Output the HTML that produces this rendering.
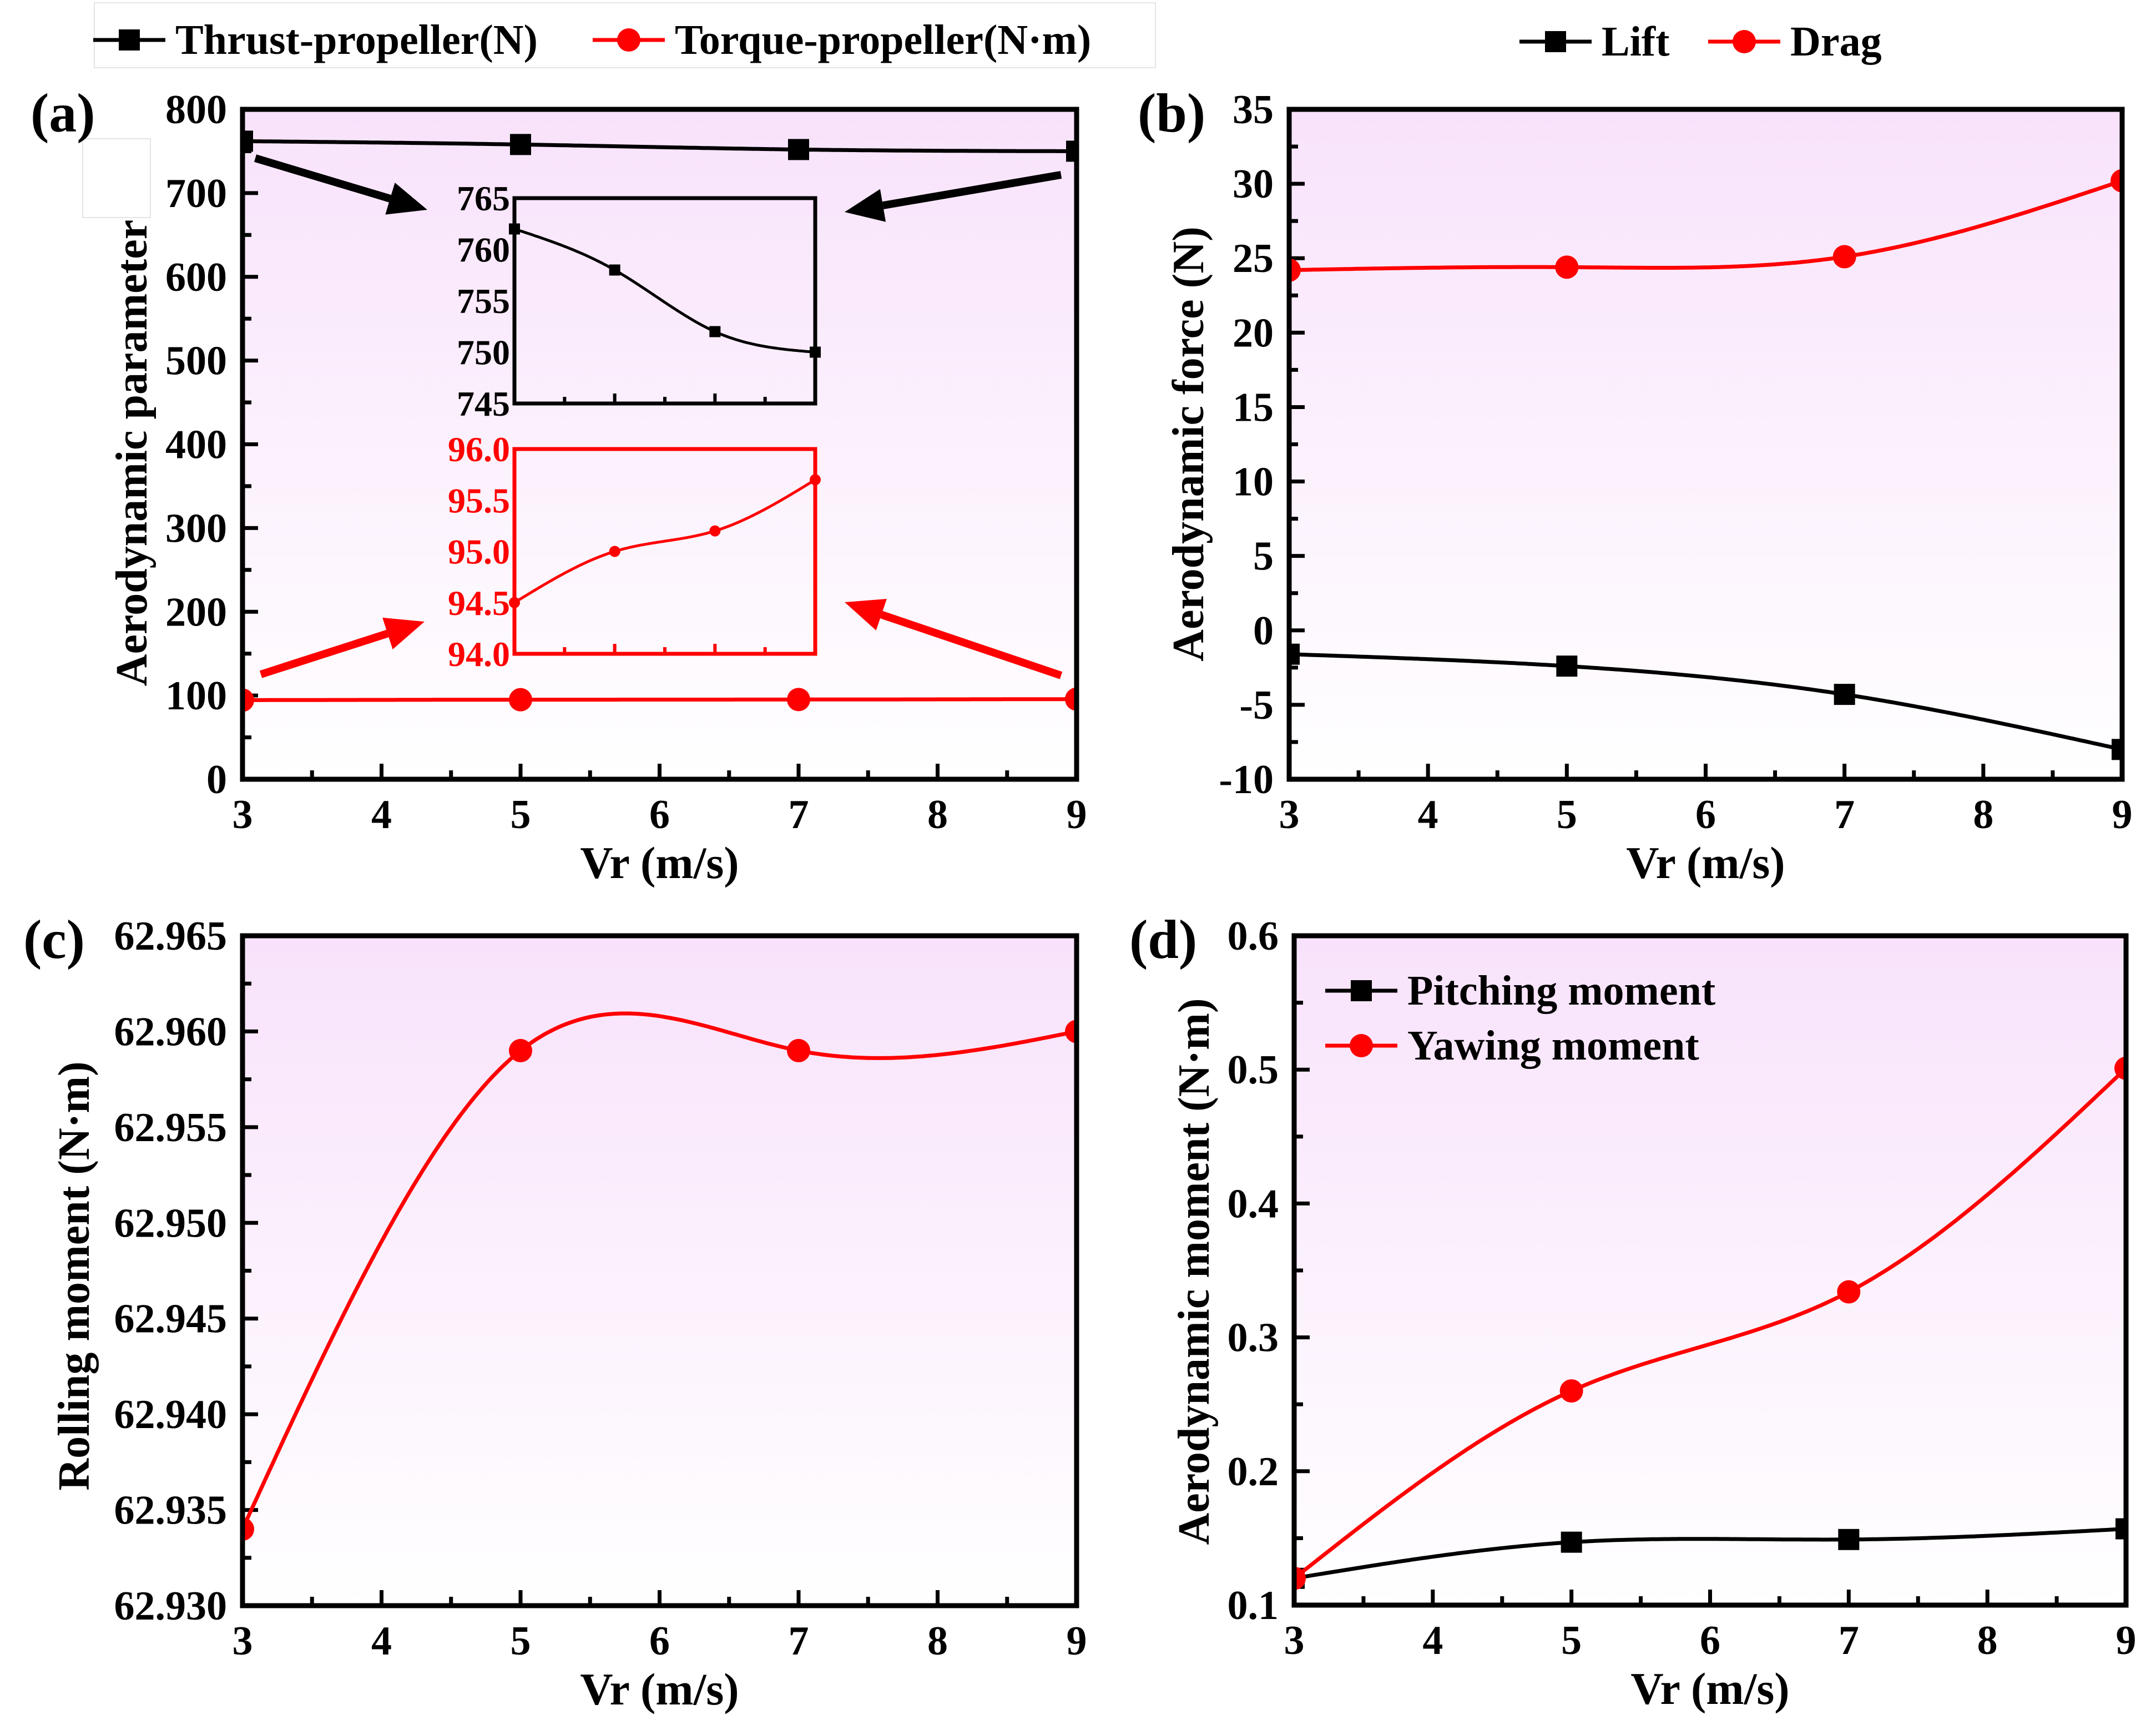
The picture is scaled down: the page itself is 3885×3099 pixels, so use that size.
<!DOCTYPE html>
<html><head><meta charset="utf-8">
<style>
html,body{margin:0;padding:0;background:#fff;}
svg, svg text{font-family:"Liberation Serif","Times New Roman","DejaVu Serif",serif;font-weight:bold;}
</style></head>
<body>
<svg id="fig" width="3885" height="3094" viewBox="0 0 3885 3094" xmlns="http://www.w3.org/2000/svg">
<defs>
<linearGradient id="bg" x1="0" y1="0" x2="0" y2="1">
<stop offset="0" stop-color="#f8e2fb"/><stop offset="1" stop-color="#ffffff"/>
</linearGradient>
</defs>
</svg>
<script>
// ---------- data ----------
const vr = [3, 5, 7, 9];
const thrust = [762, 758, 752, 750];
const torque = [94.5, 95.0, 95.2, 95.7];
const lift = [-1.6, -2.4, -4.3, -8.0];
const drag = [24.2, 24.4, 25.1, 30.2];
const rolling = [62.934, 62.959, 62.959, 62.960];
const pitching = [0.120, 0.147, 0.149, 0.157];
const yawing = [0.120, 0.260, 0.334, 0.501];
const xTicks = [3, 4, 5, 6, 7, 8, 9];
const aTicks = [0, 100, 200, 300, 400, 500, 600, 700, 800];
const bTicks = [-10, -5, 0, 5, 10, 15, 20, 25, 30, 35];
const cTicks = ["62.930", "62.935", "62.940", "62.945", "62.950", "62.955", "62.960", "62.965"];
const dTicks = ["0.1", "0.2", "0.3", "0.4", "0.5", "0.6"];
const insetBTicks = [745, 750, 755, 760, 765];
const insetRTicks = ["94.0", "94.5", "95.0", "95.5", "96.0"];

const svg = document.getElementById('fig');
const NS = 'http://www.w3.org/2000/svg';
const FONT = '"Liberation Serif", "Times New Roman", "DejaVu Serif", serif';
function mk(tag, attrs, parent) {
  const e = document.createElementNS(NS, tag);
  for (const k in attrs) e.setAttribute(k, attrs[k]);
  (parent || svg).appendChild(e);
  return e;
}
function txt(s, attrs, parent) {
  attrs['font-family'] = FONT; attrs['font-weight'] = 'bold';
  const t = mk('text', attrs, parent); t.textContent = s; return t;
}

function spline(xs, ys) {
  const n = xs.length, h = [], a = [], l = [1], mu = [0], z = [0], c = new Array(n).fill(0), b = [], d = [];
  for (let i = 0; i < n - 1; i++) h.push(xs[i + 1] - xs[i]);
  for (let i = 1; i < n - 1; i++) a[i] = 3 / h[i] * (ys[i + 1] - ys[i]) - 3 / h[i - 1] * (ys[i] - ys[i - 1]);
  for (let i = 1; i < n - 1; i++) {
    l[i] = 2 * (xs[i + 1] - xs[i - 1]) - h[i - 1] * mu[i - 1];
    mu[i] = h[i] / l[i]; z[i] = (a[i] - h[i - 1] * z[i - 1]) / l[i];
  }
  c[n - 1] = 0;
  for (let j = n - 2; j >= 0; j--) {
    c[j] = (j === 0 ? 0 : z[j] - mu[j] * c[j + 1]);
    b[j] = (ys[j + 1] - ys[j]) / h[j] - h[j] * (c[j + 1] + 2 * c[j]) / 3;
    d[j] = (c[j + 1] - c[j]) / (3 * h[j]);
  }
  return x => {
    let i = 0; while (i < n - 2 && x > xs[i + 1]) i++;
    const dx = x - xs[i];
    return ys[i] + b[i] * dx + c[i] * dx * dx + d[i] * dx * dx * dx;
  };
}

// odd white box artifact (behind everything)
const wb = mk('rect', { x: 149, y: 250, width: 122, height: 142, fill: '#fff', stroke: '#e4e4e4', 'stroke-width': 2 });



let clipId = 0;
function panel(o) {
  const g = mk('g', {});
  
  
  const X = v => o.L + (v - o.xmin) / (o.xmax - o.xmin) * (o.R - o.L);
  const Y = v => o.B - (v - o.ymin) / (o.ymax - o.ymin) * (o.B - o.T);
  const bg = mk('rect', { x: o.L, y: o.T, width: o.R - o.L, height: o.B - o.T, fill: 'url(#bg)' }, g);
  
  
  const cid = 'clip' + (clipId++);
  const cp = mk('clipPath', { id: cid }, g);
  mk('rect', { x: o.L, y: o.T, width: o.R - o.L, height: o.B - o.T }, cp);
  const ag = mk('g', { stroke: '#000', 'stroke-width': 7 }, g);
  
  
  for (let v = o.xmin; v <= o.xmax + 1e-9; v += 0.5) {
    const major = Math.abs(v - Math.round(v)) < 1e-9;
    const len = major ? 28 : 16;
    mk('line', { x1: X(v), y1: o.B, x2: X(v), y2: o.B - len }, ag);
  }
  const ys = o.yt.map(Number);
  const step = ys[1] - ys[0];
  for (let i = 0; i < ys.length; i++) {
    mk('line', { x1: o.L, y1: Y(ys[i]), x2: o.L + 28, y2: Y(ys[i]) }, ag);
    if (i < ys.length - 1) mk('line', { x1: o.L, y1: Y(ys[i] + step / 2), x2: o.L + 16, y2: Y(ys[i] + step / 2) }, ag);
  }
  xTicks.forEach(v => {
    const t = txt(String(v), { x: X(v), y: o.B + 88, 'font-size': 74, 'text-anchor': 'middle' }, g);
    
    
  });
  o.yt.forEach(s => {
    const t = txt(String(s), { x: o.L - 28, y: Y(Number(s)) + 25, 'font-size': 74, 'text-anchor': 'end' }, g);
    
    
  });
  const dg = mk('g', { 'clip-path': 'url(#' + cid + ')' }, g);
  o.series.forEach(s => {
    const f = spline(vr, s.v);
    let d = '';
    for (let k = 0; k <= 240; k++) {
      const xv = vr[0] + (vr[vr.length - 1] - vr[0]) * k / 240;
      d += (k ? 'L' : 'M') + X(xv).toFixed(1) + ' ' + Y(f(xv)).toFixed(1);
    }
    const p = mk('path', { d: d, fill: 'none', stroke: s.c, 'stroke-width': 7 }, dg);
    
    
    s.v.forEach((v, i) => {
      let m;
      if (s.m === 'sq') m = mk('rect', { x: X(vr[i]) - 19, y: Y(v) - 19, width: 38, height: 38, fill: s.c }, dg);
      else m = mk('circle', { cx: X(vr[i]), cy: Y(v), r: 21, fill: s.c }, dg);
      
      
    });
  });
  const fr = mk('rect', { x: o.L, y: o.T, width: o.R - o.L, height: o.B - o.T, fill: 'none', stroke: '#000', 'stroke-width': 9 }, g);
  
  
  const xt = txt('Vr (m/s)', { x: (o.L + o.R) / 2, y: o.B + 178, 'font-size': 82, 'text-anchor': 'middle' }, g);
  
  
  const yt = txt(o.ytitle, { x: 0, y: 0, 'font-size': 80, 'text-anchor': 'middle', transform: 'translate(' + o.ytx + ',' + o.ytc + ') rotate(-90)' }, g);
  
  
  const pl = txt(o.label, { x: o.lx, y: o.T + 40, 'font-size': 100 }, g);
  
  
  return { X, Y, g };
}

panel({ name: 'panel-a', L: 437, R: 1940, T: 197, B: 1404, xmin: 3, xmax: 9, ymin: 0, ymax: 800, yt: aTicks,
  series: [{ name: 'thrust', v: thrust, c: '#000', m: 'sq' }, { name: 'torque', v: torque, c: '#ff0000', m: 'ci' }],
  ytitle: 'Aerodynamic parameter', ytx: 264, ytc: 816, label: '(a)', lx: 55 });
panel({ name: 'panel-b', L: 2323, R: 3824, T: 197, B: 1404, xmin: 3, xmax: 9, ymin: -10, ymax: 35, yt: bTicks,
  series: [{ name: 'lift', v: lift, c: '#000', m: 'sq' }, { name: 'drag', v: drag, c: '#ff0000', m: 'ci' }],
  ytitle: 'Aerodynamic force (N)', ytx: 2168, ytc: 800, label: '(b)', lx: 2050 });
panel({ name: 'panel-c', L: 437, R: 1940, T: 1686, B: 2893, xmin: 3, xmax: 9, ymin: 62.930, ymax: 62.965, yt: cTicks,
  series: [{ name: 'rolling', v: rolling, c: '#ff0000', m: 'ci' }],
  ytitle: 'Rolling moment (N·m)', ytx: 160, ytc: 2299, label: '(c)', lx: 42 });
panel({ name: 'panel-d', L: 2332, R: 3831, T: 1686, B: 2892, xmin: 3, xmax: 9, ymin: 0.1, ymax: 0.6, yt: dTicks,
  series: [{ name: 'pitching', v: pitching, c: '#000', m: 'sq' }, { name: 'yawing', v: yawing, c: '#ff0000', m: 'ci' }],
  ytitle: 'Aerodynamic moment (N·m)', ytx: 2178, ytc: 2291, label: '(d)', lx: 2035 });

function inset(o) {
  const g = mk('g', {});
  
  
  const X = v => o.L + (v - 3) / 6 * (o.R - o.L);
  const Y = v => o.B - (v - o.ymin) / (o.ymax - o.ymin) * (o.B - o.T);
  const tg = mk('g', { stroke: o.c, 'stroke-width': 6 }, g);
  [4, 5, 6, 7, 8].forEach(v => mk('line', { x1: X(v), y1: o.B, x2: X(v), y2: o.B - (v % 2 ? 18 : 12) }, tg));
  o.yt.forEach(s => {
    const t = txt(String(s), { x: o.L - 8, y: Y(Number(s)) + 22, 'font-size': 64, 'text-anchor': 'end', fill: o.c }, g);
    
    
  });
  const f = spline(vr, o.v);
  let d = '';
  for (let k = 0; k <= 200; k++) {
    const xv = 3 + 6 * k / 200;
    d += (k ? 'L' : 'M') + X(xv).toFixed(1) + ' ' + Y(f(xv)).toFixed(1);
  }
  const p = mk('path', { d: d, fill: 'none', stroke: o.c, 'stroke-width': 5 }, g);
  
  
  o.v.forEach((v, i) => {
    let m;
    if (o.m === 'sq') m = mk('rect', { x: X(vr[i]) - 10, y: Y(v) - 10, width: 20, height: 20, fill: o.c }, g);
    else m = mk('circle', { cx: X(vr[i]), cy: Y(v), r: 10, fill: o.c }, g);
    
    
  });
  const fr = mk('rect', { x: o.L, y: o.T, width: o.R - o.L, height: o.B - o.T, fill: 'none', stroke: o.c, 'stroke-width': 7 }, g);
  
  
}
inset({ name: 'thrust-inset', L: 927, R: 1469, T: 357, B: 727, ymin: 745, ymax: 765, yt: insetBTicks, v: thrust, c: '#000', m: 'sq' });
inset({ name: 'torque-inset', L: 927, R: 1469, T: 809, B: 1178, ymin: 94, ymax: 96, yt: insetRTicks, v: torque, c: '#ff0000', m: 'ci' });

function arrow(x1, y1, x2, y2, c, name) {
  const ang = Math.atan2(y2 - y1, x2 - x1), hl = 70, hw = 30;
  const bx = x2 - hl * Math.cos(ang), by = y2 - hl * Math.sin(ang);
  const g = mk('g', {});
  
  
  mk('line', { x1: x1, y1: y1, x2: bx, y2: by, stroke: c, 'stroke-width': 14 }, g);
  const px = -Math.sin(ang) * hw, py = Math.cos(ang) * hw;
  mk('polygon', { points: x2 + ',' + y2 + ' ' + (bx + px) + ',' + (by + py) + ' ' + (bx - px) + ',' + (by - py), fill: c }, g);
}
arrow(460, 285, 770, 378, '#000', 'arrow-thrust-left');
arrow(1912, 315, 1522, 382, '#000', 'arrow-thrust-right');
arrow(470, 1215, 765, 1120, '#ff0000', 'arrow-torque-left');
arrow(1912, 1217, 1522, 1085, '#ff0000', 'arrow-torque-right');

function legendItem(x, y, c, m, label, name, fs) {
  const g = mk('g', {});
  
  
  mk('line', { x1: x, y1: y, x2: x + 130, y2: y, stroke: c, 'stroke-width': 7 }, g);
  if (m === 'sq') mk('rect', { x: x + 46, y: y - 19, width: 38, height: 38, fill: c }, g);
  else mk('circle', { cx: x + 65, cy: y, r: 21, fill: c }, g);
  txt(label, { x: x + 148, y: y + 25, 'font-size': fs }, g);
}
const lbox = mk('rect', { x: 170, y: 5, width: 1912, height: 117, fill: 'none', stroke: '#e4e4e4', 'stroke-width': 2 });


legendItem(168, 72, '#000', 'sq', 'Thrust-propeller(N)', 'legend-thrust', 76);
legendItem(1068, 72, '#ff0000', 'ci', 'Torque-propeller(N·m)', 'legend-torque', 76);
legendItem(2738, 75, '#000', 'sq', 'Lift', 'legend-lift', 76);
legendItem(3078, 75, '#ff0000', 'ci', 'Drag', 'legend-drag', 76);
legendItem(2388, 1785, '#000', 'sq', 'Pitching moment', 'legend-pitching', 76);
legendItem(2388, 1884, '#ff0000', 'ci', 'Yawing moment', 'legend-yawing', 76);
</script>
</body></html>
